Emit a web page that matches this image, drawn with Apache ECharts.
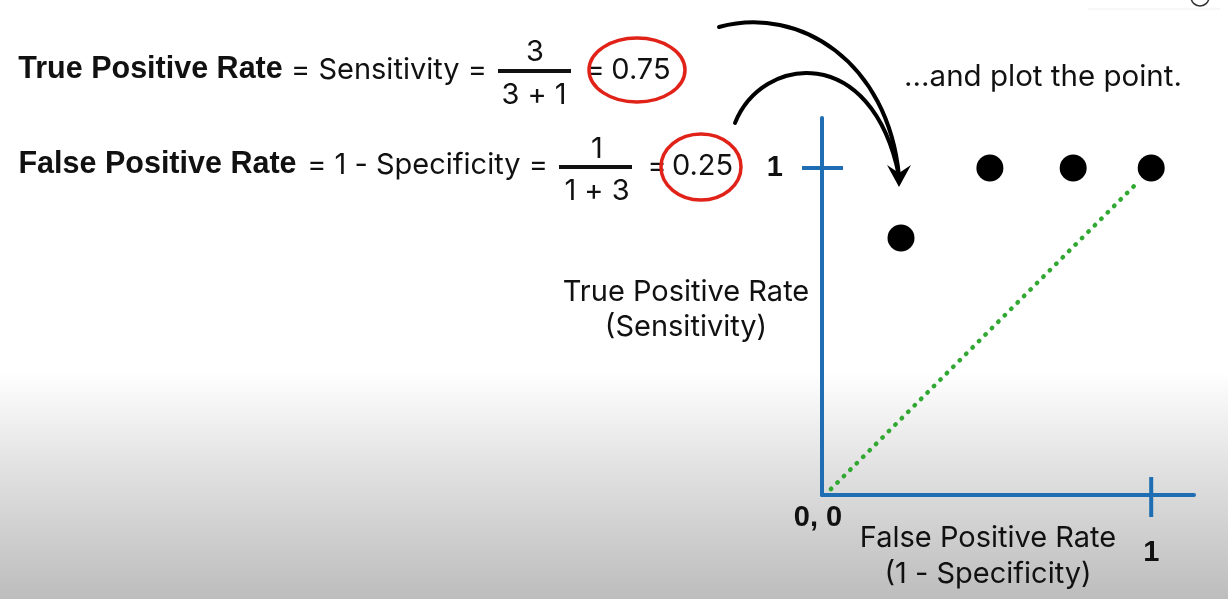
<!DOCTYPE html>
<html>
<head>
<meta charset="utf-8">
<script src="https://cdn.jsdelivr.net/npm/echarts@6/dist/echarts.min.js"></script>
<style>
html,body{margin:0;padding:0;background:#fff;}
#c{width:1228px;height:599px;}
</style>
</head>
<body>
<div id="c"></div>
<script>
// ---- data ----
const rocPoints = [[0.24, 0.786], [0.51, 1], [0.763, 1], [1, 1]];
const diagonal = [[0.027, 0.018], [0.96, 0.957]];
const xTickValues = [1];
const yTickValues = [1];
const xTickLabels = ['1'];
const yTickLabels = ['1'];
const xAxisName = ['False Positive Rate', '(1 - Specificity)'];
const yAxisName = ['True Positive Rate', '(Sensitivity)'];
const originLabel = '0, 0';
const tprFormula = ['True Positive Rate', '= Sensitivity =', '3', '3 + 1', '=', '0.75'];
const fprFormula = ['False Positive Rate', '= 1 - Specificity =', '1', '1 + 3', '=', '0.25'];
const noteText = '...and plot the point.';

const BLUE = '#1f6db3';
const BOLDFONT = '"Liberation Sans", Arial, Helvetica, sans-serif';
const FONT = 'Inter, "Liberation Sans", Arial, sans-serif';
const FS = 29;

const chart = echarts.init(document.getElementById('c'));

function txt(text, x, y, opts) {
  opts = opts || {};
  return {
    type: 'text', x: x, y: y, z: 20,
    style: {
      text: text, fill: '#111',
      font: (opts.bold ? 'bold ' : '') + (opts.size || FS) + 'px ' + (opts.bold ? BOLDFONT : FONT),
      textAlign: opts.align || 'center', textVerticalAlign: 'middle'
    }
  };
}

const graphics = [
  // formulas
  txt(tprFormula[0], 150.5, 70, {bold: true, size: 30.5}),
  txt(tprFormula[1], 389, 70),
  txt(tprFormula[2], 535, 52),
  {type: 'rect', z: 20, shape: {x: 498, y: 69, width: 73, height: 4}, style: {fill: '#111'}},
  txt(tprFormula[3], 534, 95),
  txt(tprFormula[4], 595, 70),
  txt(tprFormula[5], 641, 70),
  txt(fprFormula[0], 157.5, 165, {bold: true, size: 30.5}),
  txt(fprFormula[1], 427.5, 165),
  txt(fprFormula[2], 597, 149),
  {type: 'rect', z: 20, shape: {x: 559, y: 165, width: 73, height: 4}, style: {fill: '#111'}},
  txt(fprFormula[3], 597, 191),
  txt(fprFormula[4], 657, 166),
  txt(fprFormula[5], 702.5, 166),
  // red circles
  {type: 'ellipse', z: 21, shape: {cx: 637, cy: 70, rx: 48, ry: 32}, style: {fill: 'none', stroke: '#e02219', lineWidth: 3.5}},
  {type: 'ellipse', z: 21, shape: {cx: 701, cy: 167, rx: 40, ry: 33}, style: {fill: 'none', stroke: '#e02219', lineWidth: 3.5}},
  // arrows
  {type: 'bezierCurve', z: 20, shape: {x1: 719, y1: 27, cpx1: 800, cpy1: 5, cpx2: 888, cpy2: 62, x2: 899, y2: 176},
    style: {fill: 'none', stroke: '#000', lineWidth: 4, lineCap: 'round'}},
  {type: 'bezierCurve', z: 20, shape: {x1: 735, y1: 123, cpx1: 762, cpy1: 55, cpx2: 872, cpy2: 42, x2: 899, y2: 176},
    style: {fill: 'none', stroke: '#000', lineWidth: 4, lineCap: 'round'}},
  {type: 'polygon', z: 20, shape: {points: [[887, 165], [899, 187], [911, 165], [899, 173]]}, style: {fill: '#000'}},
  // note
  txt(noteText, 1043, 77, {size: 29.5}),
  // axis texts
  txt(yAxisName[0], 686, 292),
  txt(yAxisName[1], 686, 327),
  txt(xAxisName[0], 988, 538),
  txt(xAxisName[1], 988, 574),
  txt(originLabel, 818, 518, {bold: true}),
  // top-right UI remnants
  {type: 'line', z: 20, shape: {x1: 1088, y1: 9, x2: 1220, y2: 9}, style: {stroke: '#eeeeee', lineWidth: 1}},
  {type: 'circle', z: 20, shape: {cx: 1200, cy: -3, r: 9}, style: {fill: 'none', stroke: '#333', lineWidth: 1.5}}
];

const option = {
  backgroundColor: {
    type: 'linear', x: 0, y: 0, x2: 0, y2: 1,
    colorStops: [
      {offset: 0, color: '#ffffff'},
      {offset: 0.62, color: '#ffffff'},
      {offset: 0.8, color: '#dedede'},
      {offset: 1, color: '#bdbdbd'}
    ]
  },
  animation: false,
  grid: {left: 822, top: 118, right: 34, bottom: 104},
  xAxis: {
    type: 'value', min: 0, max: 1.13, interval: 1,
    axisLine: {show: true, onZero: false, lineStyle: {color: BLUE, width: 4}},
    axisTick: {show: false}, splitLine: {show: false},
    axisLabel: {
      margin: 43, color: '#111', fontFamily: BOLDFONT, fontWeight: 'bold', fontSize: FS,
      formatter: v => { const i = xTickValues.findIndex(t => Math.abs(t - v) < 1e-9); return i >= 0 ? xTickLabels[i] : ''; }
    }
  },
  yAxis: {
    type: 'value', min: 0, max: 1.153, interval: 1,
    axisLine: {show: true, onZero: false, lineStyle: {color: BLUE, width: 4}},
    axisTick: {show: false}, splitLine: {show: false},
    axisLabel: {
      margin: 39, color: '#111', fontFamily: BOLDFONT, fontWeight: 'bold', fontSize: FS,
      formatter: v => { const i = yTickValues.findIndex(t => Math.abs(t - v) < 1e-9); return i >= 0 ? yTickLabels[i] : ''; }
    }
  },
  series: [
    {
      type: 'line', data: diagonal, symbol: 'none', clip: false, z: 3,
      lineStyle: {color: '#30a832', width: 4.5, type: [0.5, 8.6], cap: 'round'}
    },
    {
      // cross tick on the x axis at x = 1
      type: 'scatter', data: xTickValues.map(v => [v, 0]), symbol: 'rect', symbolSize: [4, 40],
      symbolOffset: [0, 2], clip: false, z: 3, itemStyle: {color: BLUE, opacity: 1}
    },
    {
      // cross tick on the y axis at y = 1
      type: 'scatter', data: yTickValues.map(v => [0, v]), symbol: 'rect', symbolSize: [41, 4],
      symbolOffset: [0.5, 0], clip: false, z: 3, itemStyle: {color: BLUE, opacity: 1}
    },
    {
      type: 'scatter', data: rocPoints, symbol: 'circle', symbolSize: 27, clip: false, z: 5,
      itemStyle: {color: '#000', opacity: 1}
    }
  ],
  graphic: graphics
};
chart.setOption(option);
</script>
</body>
</html>
